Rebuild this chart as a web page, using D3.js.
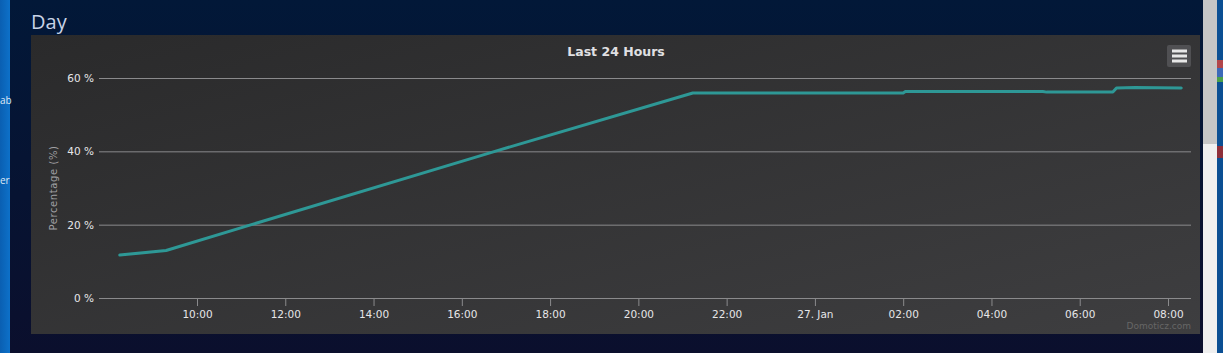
<!DOCTYPE html>
<html lang="en">
<head>
<meta charset="UTF-8">
<script src="https://d3js.org/d3.v7.min.js"></script>
<title>Day</title>
<style>
  html, body { margin: 0; padding: 0; overflow: hidden; background: #061634; }
  svg { display: block; }
</style>
</head>
<body>
<div id="chart"></div>
<script>
// data (26/27 Jan), battery level in percent
var times = ["2015-01-26 08:15", "2015-01-26 09:18", "2015-01-26 11:14", "2015-01-26 16:45",
             "2015-01-26 21:14", "2015-01-27 02:00", "2015-01-27 02:03", "2015-01-27 05:10",
             "2015-01-27 05:15", "2015-01-27 06:45", "2015-01-27 06:50", "2015-01-27 07:15",
             "2015-01-27 08:18"];
var values = [11.7, 12.95, 20, 40, 55.9, 55.9, 56.3, 56.3, 56.15, 56.2, 57.3, 57.4, 57.3];

var xTickTimes = ["2015-01-26 10:00", "2015-01-26 12:00", "2015-01-26 14:00", "2015-01-26 16:00",
                  "2015-01-26 18:00", "2015-01-26 20:00", "2015-01-26 22:00", "2015-01-27 00:00",
                  "2015-01-27 02:00", "2015-01-27 04:00", "2015-01-27 06:00", "2015-01-27 08:00"];
var xTickLabels = ["10:00", "12:00", "14:00", "16:00", "18:00", "20:00", "22:00", "27. Jan",
                   "02:00", "04:00", "06:00", "08:00"];
var yTicks = [0, 20, 40, 60];
var yTickLabels = ["0 %", "20 %", "40 %", "60 %"];

var parse = d3.timeParse("%Y-%m-%d %H:%M");
var data = times.map(function(t, i) { return { t: parse(t), v: values[i] }; });

var width = 1223, height = 353;
var svg = d3.select("#chart").append("svg").attr("width", width).attr("height", height);
var defs = svg.append("defs");

// page background
var pg = defs.append("linearGradient").attr("id", "page").attr("x1", 0).attr("y1", 0).attr("x2", 0).attr("y2", 1);
pg.append("stop").attr("offset", "0%").attr("stop-color", "#021838");
pg.append("stop").attr("offset", "100%").attr("stop-color", "#0b0f2d");
svg.append("rect").attr("width", width).attr("height", height).attr("fill", "url(#page)");

// left edge of the window behind
var lg = defs.append("linearGradient").attr("id", "leftbar").attr("x1", 0).attr("y1", 0).attr("x2", 1).attr("y2", 0);
lg.append("stop").attr("offset", "0%").attr("stop-color", "#0a5fb2");
lg.append("stop").attr("offset", "100%").attr("stop-color", "#0d71c9");
svg.append("rect").attr("x", 0).attr("y", 0).attr("width", 10).attr("height", height).attr("fill", "url(#leftbar)");
svg.append("text").attr("x", 0).attr("y", 104).attr("fill", "#dfe8f4").attr("font-family", "Open Sans")
  .attr("font-size", 10).text("ab");
svg.append("text").attr("x", 0).attr("y", 184).attr("fill", "#dfe8f4").attr("font-family", "Open Sans")
  .attr("font-size", 10).text("er");

// right edge: scrollbar and window behind
svg.append("rect").attr("x", 1203).attr("y", 0).attr("width", 14).attr("height", height).attr("fill", "#efefef");
svg.append("rect").attr("x", 1203).attr("y", 0).attr("width", 14).attr("height", 144).attr("fill", "#c6c6c6");
svg.append("rect").attr("x", 1217).attr("y", 0).attr("width", 6).attr("height", height).attr("fill", "#0b4f93");
svg.append("rect").attr("x", 1217).attr("y", 60).attr("width", 6).attr("height", 8).attr("fill", "#b2464b");
svg.append("rect").attr("x", 1217).attr("y", 68).attr("width", 6).attr("height", 9).attr("fill", "#3c6ab8");
svg.append("rect").attr("x", 1217).attr("y", 77).attr("width", 6).attr("height", 5).attr("fill", "#4aa04a");
svg.append("rect").attr("x", 1217).attr("y", 146).attr("width", 6).attr("height", 12).attr("fill", "#8e2f3a");

// page title
svg.append("text").attr("x", 31).attr("y", 29).attr("fill", "#c9d3e6")
  .attr("font-family", "Open Sans").attr("font-size", 20).text("Day");

// chart panel
var cg = defs.append("linearGradient").attr("id", "panel").attr("x1", 0).attr("y1", 0).attr("x2", 1).attr("y2", 1);
cg.append("stop").attr("offset", "0%").attr("stop-color", "#2a2a2b");
cg.append("stop").attr("offset", "100%").attr("stop-color", "#3e3e40");
svg.append("rect").attr("x", 31).attr("y", 35).attr("width", 1169).attr("height", 299).attr("fill", "url(#panel)");

var plotLeft = 99, plotRight = 1191, plotTop = 78, plotBottom = 298;

// 10:00 -> 197px, 08:00 -> 1168px
var xScale = d3.scaleTime()
  .domain([parse("2015-01-26 10:00"), parse("2015-01-27 08:00")])
  .range([197, 1168]);
xScale.domain([xScale.invert(plotLeft), xScale.invert(plotRight)]).range([plotLeft, plotRight]);

var yScale = d3.scaleLinear().domain([0, 60]).range([plotBottom, plotTop]);

var font = "DejaVu Sans";

svg.append("text").attr("x", 616).attr("y", 56).attr("text-anchor", "middle")
  .attr("fill", "#e0e0e3").attr("font-family", font).attr("font-weight", "bold")
  .attr("font-size", 12.5).text("Last 24 Hours");

// gridlines + y labels
var yAxis = d3.axisLeft(yScale).tickValues(yTicks)
  .tickSize(-(plotRight - plotLeft)).tickPadding(5)
  .tickFormat(function(d, i) { return yTickLabels[i]; });
var gy = svg.append("g").attr("transform", "translate(" + plotLeft + ",0)").call(yAxis);
gy.select(".domain").remove();
gy.selectAll(".tick line").attr("stroke", "#8a8a8c").attr("stroke-width", 1);
gy.selectAll(".tick text").attr("fill", "#e6e6e8").attr("font-family", font).attr("font-size", 10.5);

svg.append("text")
  .attr("transform", "translate(57,188) rotate(-90)")
  .attr("text-anchor", "middle").attr("fill", "#a0a0a3")
  .attr("font-family", font).attr("font-size", 10).attr("letter-spacing", 0.6)
  .text("Percentage (%)");

// x axis
var xAxis = d3.axisBottom(xScale)
  .tickValues(xTickTimes.map(parse))
  .tickSize(8).tickPadding(5)
  .tickFormat(function(d, i) { return xTickLabels[i]; });
var gx = svg.append("g").attr("transform", "translate(0," + plotBottom + ")").call(xAxis);
gx.select(".domain").attr("stroke", "#8a8a8c").attr("d", "M" + plotLeft + ",0.5H" + plotRight);
gx.selectAll(".tick line").attr("stroke", "#8a8a8c");
gx.selectAll(".tick text").attr("fill", "#e6e6e8").attr("font-family", font).attr("font-size", 10.5);

// series
var line = d3.line().x(function(d) { return xScale(d.t); }).y(function(d) { return yScale(d.v); });
svg.append("path").datum(data).attr("d", line)
  .attr("fill", "none").attr("stroke", "#2e9896").attr("stroke-width", 3)
  .attr("stroke-linejoin", "round").attr("stroke-linecap", "round");

// export menu button
svg.append("rect").attr("x", 1167).attr("y", 45).attr("width", 24).attr("height", 22).attr("rx", 2)
  .attr("fill", "#505053");
[51, 56, 61].forEach(function(yy) {
  svg.append("line").attr("x1", 1172).attr("x2", 1187).attr("y1", yy).attr("y2", yy)
    .attr("stroke", "#e8e8e8").attr("stroke-width", 3);
});

// credits
svg.append("text").attr("x", 1191).attr("y", 329).attr("text-anchor", "end")
  .attr("fill", "#666").attr("font-family", font).attr("font-size", 9).text("Domoticz.com");
</script>
</body>
</html>
